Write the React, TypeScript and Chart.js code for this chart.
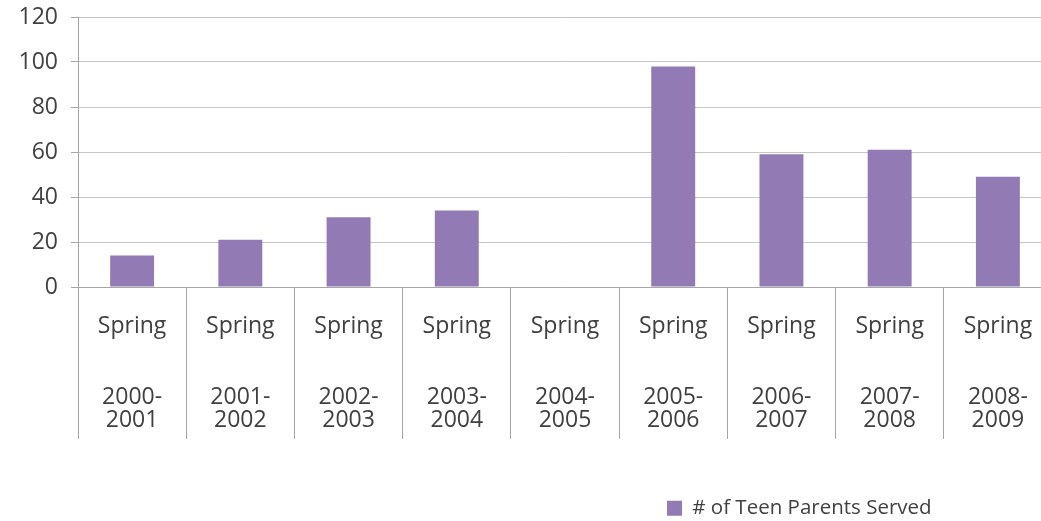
import React, { useEffect, useRef } from "react";
import { Chart, registerables } from "chart.js";

Chart.register(...registerables);

const categories: string[][] = [
  ["Spring", "", "", "2000-", "2001"],
  ["Spring", "", "", "2001-", "2002"],
  ["Spring", "", "", "2002-", "2003"],
  ["Spring", "", "", "2003-", "2004"],
  ["Spring", "", "", "2004-", "2005"],
  ["Spring", "", "", "2005-", "2006"],
  ["Spring", "", "", "2006-", "2007"],
  ["Spring", "", "", "2007-", "2008"],
  ["Spring", "", "", "2008-", "2009"],
];
const seriesLabel = "# of Teen Parents Served";
const teenParentsServed: number[] = [14, 21, 31, 34, 0, 98, 59, 61, 49];
const yMin = 0;
const yMax = 120;
const yStep = 20;

const FONT = "'Open Sans', 'DejaVu Sans', sans-serif";
const TEXT = "#404040";
const BAR = "#927BB4";

const legendPlacer = {
  id: "legendPlacer",
  afterLayout(chart: any) {
    const lg = chart.legend;
    if (!lg) return;
    const h = lg.height;
    lg.left = 657;
    lg.right = 1040;
    lg.width = lg.right - lg.left;
    lg.top = 488;
    lg.bottom = 488 + h;
  },
};

export default function App() {
  const ref = useRef<HTMLCanvasElement | null>(null);

  useEffect(() => {
    if (!ref.current) return;
    const chart = new Chart(ref.current, {
      type: "bar",
      data: {
        labels: categories,
        datasets: [
          {
            label: seriesLabel,
            data: teenParentsServed,
            backgroundColor: BAR,
            borderWidth: 0,
            categoryPercentage: 1,
            barPercentage: 0.406,
          },
        ],
      },
      options: {
        animation: false,
        responsive: false,
        maintainAspectRatio: false,
        layout: { padding: { top: 17, right: 8, bottom: 0, left: 0 } },
        plugins: {
          tooltip: { enabled: false },
          legend: {
            position: "chartArea",
            align: "start",
            labels: {
              boxWidth: 15,
              boxHeight: 15,
              padding: 10,
              color: TEXT,
              font: { family: FONT, size: 20.5 },
            },
          },
        },
        scales: {
          x: {
            offset: true,
            grid: {
              offset: true,
              display: true,
              drawOnChartArea: false,
              drawTicks: true,
              tickLength: 152,
              color: "#A6A6A6",
              tickColor: "#A6A6A6",
            },
            border: { display: true, color: "#A6A6A6" },
            ticks: {
              autoSkip: false,
              maxRotation: 0,
              minRotation: 0,
              padding: -124,
              color: TEXT,
              font: { family: FONT, size: 23, lineHeight: 1.022 },
            },
            afterFit: (s: any) => {
              s.height = 234;
              s.paddingTop = 0;
              s.paddingBottom = 0;
            },
          },
          y: {
            min: yMin,
            max: yMax,
            ticks: {
              stepSize: yStep,
              padding: 13,
              color: TEXT,
              font: { family: FONT, size: 23 },
            },
            grid: {
              color: "#C6C6C6",
              tickColor: "#A6A6A6",
              tickLength: 7,
              drawTicks: true,
            },
            border: { display: true, color: "#A6A6A6" },
            afterFit: (s: any) => {
              s.width = 78;
              s.paddingTop = 0;
              s.paddingBottom = 0;
            },
          },
        },
      },
      plugins: [legendPlacer],
    });
    return () => chart.destroy();
  }, []);

  return (
    <div
      style={{
        position: "absolute",
        left: 0,
        top: 0,
        width: 1041,
        height: 521,
        overflow: "hidden",
        background: "#ffffff",
      }}
    >
      <canvas ref={ref} width={1060} height={521} style={{ display: "block" }} />
    </div>
  );
}
